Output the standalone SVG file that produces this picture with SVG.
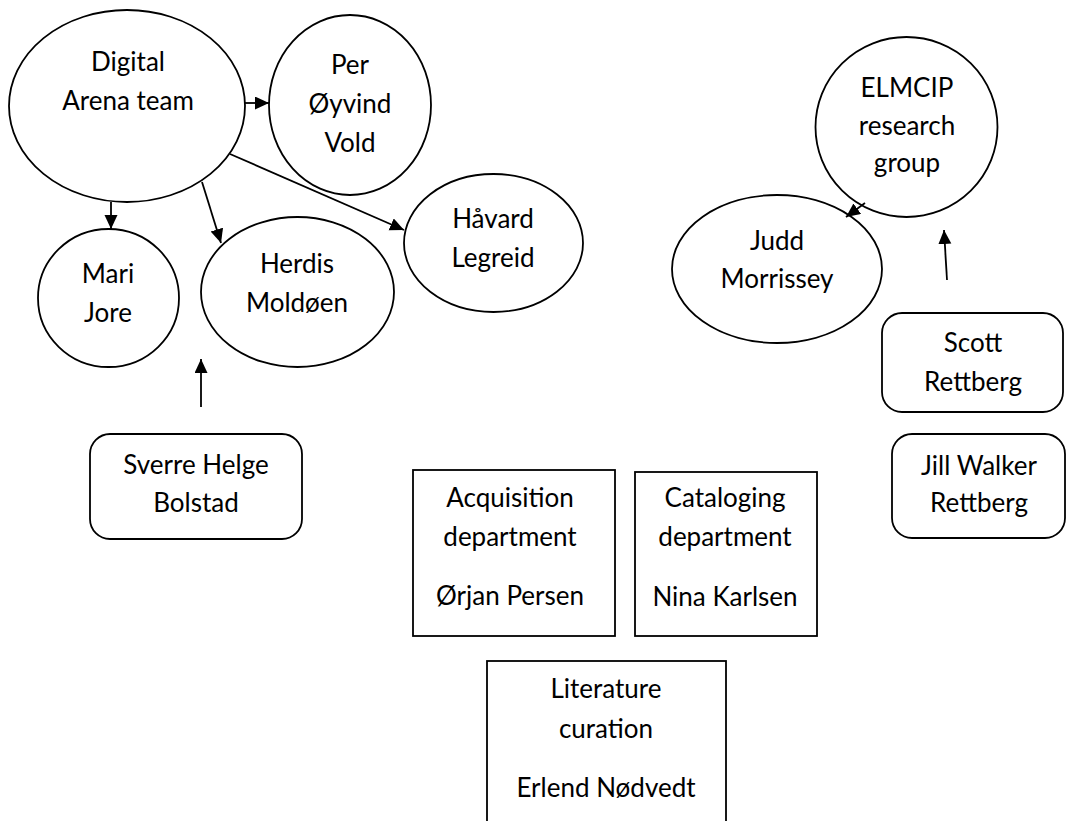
<svg xmlns="http://www.w3.org/2000/svg" width="1066" height="821" viewBox="0 0 1066 821">
  <style>
    .shape { fill: #ffffff; stroke: #000000; stroke-width: 1.8; }
    .edge { fill: none; stroke: #000000; stroke-width: 1.8; }
    .label { font-family: Lato, "Noto Sans", "Liberation Sans", sans-serif; font-size: 26px; fill: #000000; text-anchor: middle; }
  </style>
  <defs>
    <marker id="arrow" markerUnits="userSpaceOnUse" markerWidth="15" markerHeight="14" refX="14" refY="6.5" orient="auto">
      <path d="M0,0 L14,6.5 L0,13 Z" fill="#000000"/>
    </marker>
  </defs>
  <rect width="1066" height="821" fill="#ffffff"/>

  <g id="node-digital-arena">
    <ellipse class="shape" cx="127" cy="106" rx="118" ry="96"/>
    <text class="label" x="128" y="71">Digital</text>
    <text class="label" x="128" y="110">Arena team</text>
  </g>

  <g id="node-per">
    <ellipse class="shape" cx="350" cy="105" rx="81" ry="90"/>
    <text class="label" x="350" y="74">Per</text>
    <text class="label" x="350" y="113">Øyvind</text>
    <text class="label" x="350" y="152">Vold</text>
  </g>

  <g id="node-mari">
    <ellipse class="shape" cx="108.5" cy="298" rx="70.5" ry="69"/>
    <text class="label" x="108" y="283">Mari</text>
    <text class="label" x="108" y="322">Jore</text>
  </g>

  <g id="node-herdis">
    <ellipse class="shape" cx="297.5" cy="292" rx="96.5" ry="75"/>
    <text class="label" x="297" y="273">Herdis</text>
    <text class="label" x="297" y="312">Moldøen</text>
  </g>

  <g id="node-havard">
    <ellipse class="shape" cx="493.5" cy="243" rx="89.5" ry="69"/>
    <text class="label" x="493" y="228">Håvard</text>
    <text class="label" x="493" y="267">Legreid</text>
  </g>

  <g id="node-elmcip">
    <ellipse class="shape" cx="906.5" cy="127" rx="91" ry="90"/>
    <text class="label" x="907" y="97">ELMCIP</text>
    <text class="label" x="907" y="135">research</text>
    <text class="label" x="907" y="172">group</text>
  </g>

  <g id="node-judd">
    <ellipse class="shape" cx="777" cy="269" rx="105" ry="74"/>
    <text class="label" x="777" y="250">Judd</text>
    <text class="label" x="777" y="288">Morrissey</text>
  </g>

  <g id="node-scott">
    <rect class="shape" x="882" y="313" width="181" height="99" rx="20" ry="20"/>
    <text class="label" x="973" y="352">Scott</text>
    <text class="label" x="973" y="391">Rettberg</text>
  </g>

  <g id="node-jill">
    <rect class="shape" x="892" y="434" width="173" height="104" rx="20" ry="20"/>
    <text class="label" x="979" y="475">Jill Walker</text>
    <text class="label" x="979" y="512">Rettberg</text>
  </g>

  <g id="node-sverre">
    <rect class="shape" x="90" y="434" width="212" height="105" rx="20" ry="20"/>
    <text class="label" x="196" y="474">Sverre Helge</text>
    <text class="label" x="196" y="512">Bolstad</text>
  </g>

  <g id="node-acquisition">
    <rect class="shape" x="413" y="470" width="202" height="166"/>
    <text class="label" x="510" y="507">Acquisition</text>
    <text class="label" x="510" y="546">department</text>
    <text class="label" x="510" y="605">Ørjan Persen</text>
  </g>

  <g id="node-cataloging">
    <rect class="shape" x="635" y="472" width="182" height="164"/>
    <text class="label" x="725" y="507">Cataloging</text>
    <text class="label" x="725" y="546">department</text>
    <text class="label" x="725" y="606">Nina Karlsen</text>
  </g>

  <g id="node-literature">
    <rect class="shape" x="487" y="661" width="239" height="180"/>
    <text class="label" x="606" y="698">Literature</text>
    <text class="label" x="606" y="738">curation</text>
    <text class="label" x="606" y="797">Erlend Nødvedt</text>
  </g>

  <g id="connectors">
    <line class="edge" x1="245" y1="103" x2="269" y2="103" marker-end="url(#arrow)"/>
    <line class="edge" x1="111" y1="202" x2="111" y2="229" marker-end="url(#arrow)"/>
    <line class="edge" x1="202" y1="182" x2="221" y2="243" marker-end="url(#arrow)"/>
    <line class="edge" x1="230" y1="154" x2="404" y2="230" marker-end="url(#arrow)"/>
    <line class="edge" x1="865" y1="203" x2="846" y2="217" marker-end="url(#arrow)"/>
    <line class="edge" x1="201" y1="407" x2="201" y2="359" marker-end="url(#arrow)"/>
    <line class="edge" x1="947" y1="280" x2="944" y2="230" marker-end="url(#arrow)"/>
  </g>
</svg>
